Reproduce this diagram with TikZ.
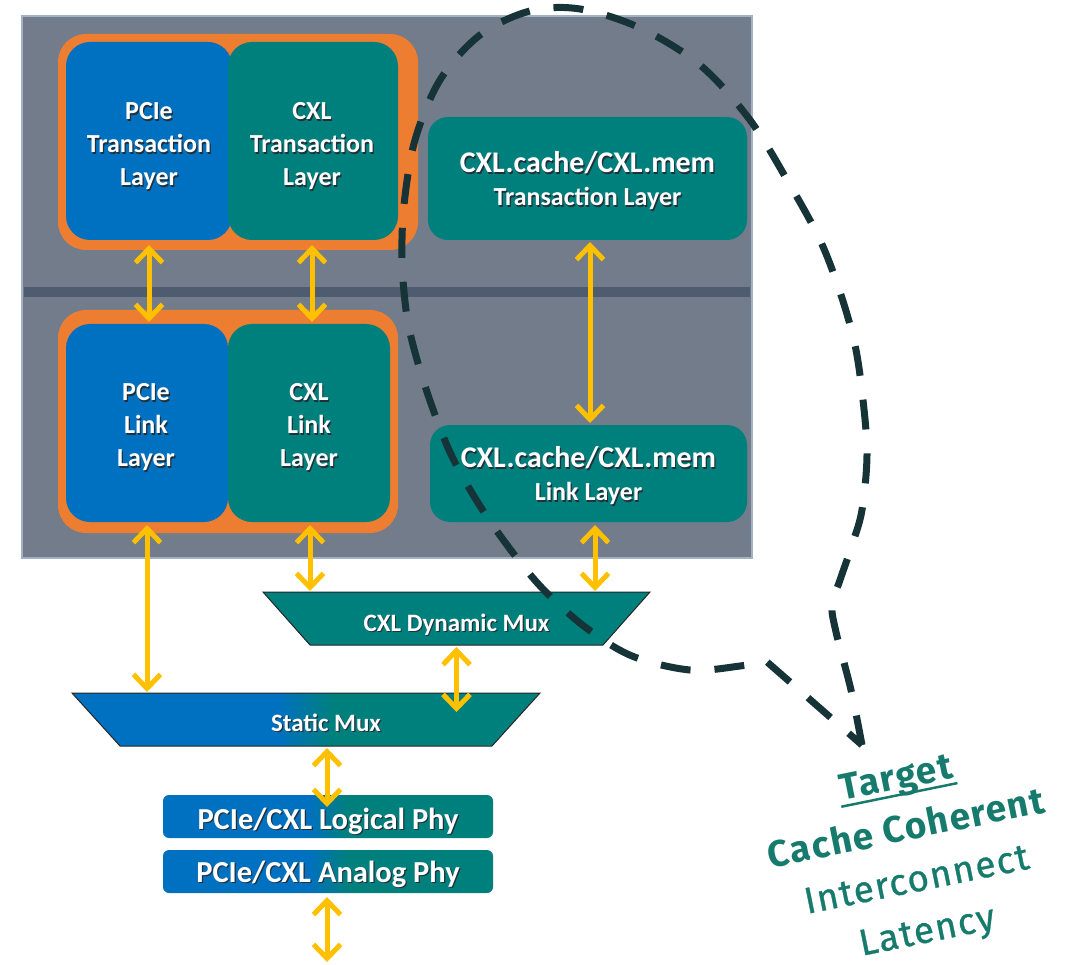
\documentclass[tikz,border=0pt]{standalone}
\usepackage{fontspec}
\setmainfont{Carlito}
\newfontfamily\notefont{Fira Sans}[LetterSpace=4]
\newfontfamily\notemid{Fira Sans}[LetterSpace=4, FakeBold=0.8]
\usetikzlibrary{arrows.meta,calc}

\definecolor{panelC}{HTML}{727C8A}
\definecolor{panelEdge}{HTML}{A3B1C6}
\definecolor{dividerC}{HTML}{4F5B6E}
\definecolor{frameC}{HTML}{ED7D31}
\definecolor{pcieC}{HTML}{0070C0}
\definecolor{cxlC}{HTML}{00807C}
\definecolor{arrowC}{HTML}{FFC000}
\definecolor{dashC}{HTML}{163337}
\definecolor{noteC}{HTML}{167B6D}
\definecolor{shadowC}{HTML}{22303A}

% blue on the left, teal on the right, with a short blend near the middle
\pgfdeclarehorizontalshading{pcietocxl}{100bp}{color(0bp)=(pcieC); color(47bp)=(pcieC); color(53bp)=(cxlC); color(100bp)=(cxlC)}

% white label text with a small dark drop shadow
\newcommand\shd[1]{\leavevmode\rlap{\kern1.2pt\raisebox{-1.2pt}{\textcolor{shadowC}{#1}}}#1}
% heavier underline for the note heading
\newcommand\thickul[1]{\setbox0\hbox{#1}\rlap{\kern-2pt\rule[-7pt]{\dimexpr\wd0+4pt\relax}{2.5pt}}\box0}

\begin{document}
\begin{tikzpicture}[x=1pt,y=-1pt,
  boxtext/.style={text=white, align=center, font=\bfseries\fontsize{26}{33}\selectfont, inner sep=0pt, outer sep=0pt},
  layerbox/.style={inner sep=0pt, outer sep=0pt, rounded corners=24pt, minimum height=198pt},
  widebox/.style={inner sep=0pt, outer sep=0pt, fill=cxlC, rounded corners=20pt},
  framebox/.style={fill=frameC, rounded corners=28pt, inner sep=0pt, outer sep=0pt},
  muxarea/.style={inner sep=0pt, outer sep=0pt, minimum height=53pt},
  muxedge/.style={draw=black!85, line width=1pt},
  muxtext/.style={text=white, font=\bfseries\fontsize{25}{30}\selectfont, inner sep=0pt},
  phybox/.style={shading=pcietocxl, rounded corners=6pt, minimum width=330pt, minimum height=43pt,
    inner sep=0pt, outer sep=0pt},
  phytext/.style={text=white, font=\bfseries\fontsize{30.5}{33}\selectfont, inner sep=0pt},
  biarrow/.style={draw=arrowC, line width=5pt,
    {Straight Barb[length=14pt,width=27pt]}-{Straight Barb[length=14pt,width=27pt]}},
]
\useasboundingbox (0,0) rectangle (1081,965);

% grey panel holding the protocol layers
\draw[fill=panelC, draw=panelEdge, line width=2pt] (22,16) rectangle (752,558);
\fill[dividerC] (24,287) rectangle (750,297);

% orange frames around the PCIe / CXL pairs
\node[framebox, minimum width=360pt, minimum height=216pt] (topframe) at (238,142) {};
\node[framebox, minimum width=340pt, minimum height=223pt] (botframe) at (228,421.5) {};

% transaction layers
\node[layerbox, fill=pcieC, minimum width=166pt] (pcieTL) at (149,141) {};
\node[boxtext] (pcieTLtxt) at (149,147) {\shd{PCIe}\\\shd{Transaction}\\\shd{Layer}};
\node[layerbox, fill=cxlC, minimum width=170pt] (cxlTL) at (313,141) {};
\node[boxtext] (cxlTLtxt) at (312,147) {\shd{CXL}\\\shd{Transaction}\\\shd{Layer}};
\node[widebox, minimum width=319pt, minimum height=123pt] (cmTL) at (587.5,178.5) {};
\node[boxtext] (cmTLtxt) at (587.5,181.5)
  {{\fontsize{30}{33}\selectfont\shd{CXL.cache/CXL.mem}}\\\shd{Transaction Layer}};

% link layers
\node[layerbox, fill=pcieC, minimum width=162pt] (pcieLL) at (147,423) {};
\node[boxtext] (pcieLLtxt) at (146,428) {\shd{PCIe}\\\shd{Link}\\\shd{Layer}};
\node[layerbox, fill=cxlC, minimum width=162pt] (cxlLL) at (309,423) {};
\node[boxtext] (cxlLLtxt) at (309,428) {\shd{CXL}\\\shd{Link}\\\shd{Layer}};
\node[widebox, minimum width=317pt, minimum height=97pt] (cmLL) at (588.5,473.5) {};
\node[boxtext] (cmLLtxt) at (588.5,476.5)
  {{\fontsize{30}{33}\selectfont\shd{CXL.cache/CXL.mem}}\\\shd{Link Layer}};

% multiplexers: inverted trapezoids spanning their named areas
\node[muxarea, minimum width=387pt] (dm) at (456.5,618.5) {};
\draw[muxedge, fill=cxlC] (dm.north west) -- (dm.north east) -- ($(dm.south east)+(-47,0)$)
  -- ($(dm.south west)+(47,0)$) -- cycle;
\node[muxtext] (dmlabel) at (456.5,625) {\shd{CXL Dynamic Mux}};
\node[muxarea, minimum width=468pt] (sm) at (306,719.5) {};
\draw[muxedge, shading=pcietocxl] (sm.north west) -- (sm.north east) -- ($(sm.south east)+(-48,0)$)
  -- ($(sm.south west)+(48,0)$) -- cycle;
\node[muxtext] (smlabel) at (326,723) {\shd{Static Mux}};

% physical layers
\node[phybox] (logi) at (328,816.5) {};
\node[phytext] (logitxt) at (328,821.5) {\shd{PCIe/CXL Logical Phy}};
\node[phybox] (ana) at (328,871.5) {};
\node[phytext] (anatxt) at (328,874.5) {\shd{PCIe/CXL Analog Phy}};
\coordinate (out) at (327,962);

% data paths
\draw[biarrow] ($(pcieTL.south)+(0,5)$) -- ($(pcieTL.south |- pcieLL.north)+(0,-2)$);
\draw[biarrow] ($(cxlTL.south)+(-1,5)$) -- ($(cxlTL.south |- cxlLL.north)+(-1,-2)$);
\draw[biarrow] ($(cmTL.south)+(2.5,2)$) -- ($(cmTL.south |- cmLL.north)+(2.5,-2)$);
\draw[biarrow] ($(pcieLL.south)+(0,3)$) -- ($(pcieLL.south |- sm.north)+(0,-1)$);
\draw[biarrow] ($(cxlLL.south)+(1,3)$) -- ($(cxlLL.south |- dm.north)+(1,-1)$);
\draw[biarrow] ($(cmLL.south)+(6.5,3)$) -- ($(cmLL.south |- dm.north)+(6.5,-1)$);
\draw[biarrow] ($(dm.south)+(0,2)$) -- ($(dm.south |- sm.north)+(0,19)$);
\draw[biarrow] ($(logi.north |- sm.south)+(-1,2)$) -- ($(logi.north)+(-1,12)$);
\draw[biarrow] ($(ana.south)+(-1,4)$) -- (out);

% dashed call-out around the CXL.cache/CXL.mem path
\draw[dashC, line width=7pt, dash pattern=on 30pt off 24pt] plot[smooth, tension=0.55] coordinates {
  (862,745) (851,690) (836,632) (832,605) (840,580) (852,545) (862,510) (867,455)
  (863,400) (855,345) (840,292) (820,240) (790,185) (750,120) (700,65) (640,28)
  (580,9) (530,11) (480,35) (440,80) (415,140) (404,205) (402,260) (406,310)
  (413,345) (428,395) (449,450) (475,498) (507,545) (542,588) (585,627) (632,656)
  (690,670) (740,666) (766,661)} -- (862,745);

% latency note
\node[text=noteC, align=center, rotate=11.5, font=\fontsize{37}{52}\selectfont] (note) at (912,857)
  {{\notefont\bfseries\thickul{Target}}\\{\notefont\bfseries Cache Coherent}\\{\notemid Interconnect}\\{\notemid Latency}};
\end{tikzpicture}
\end{document}
